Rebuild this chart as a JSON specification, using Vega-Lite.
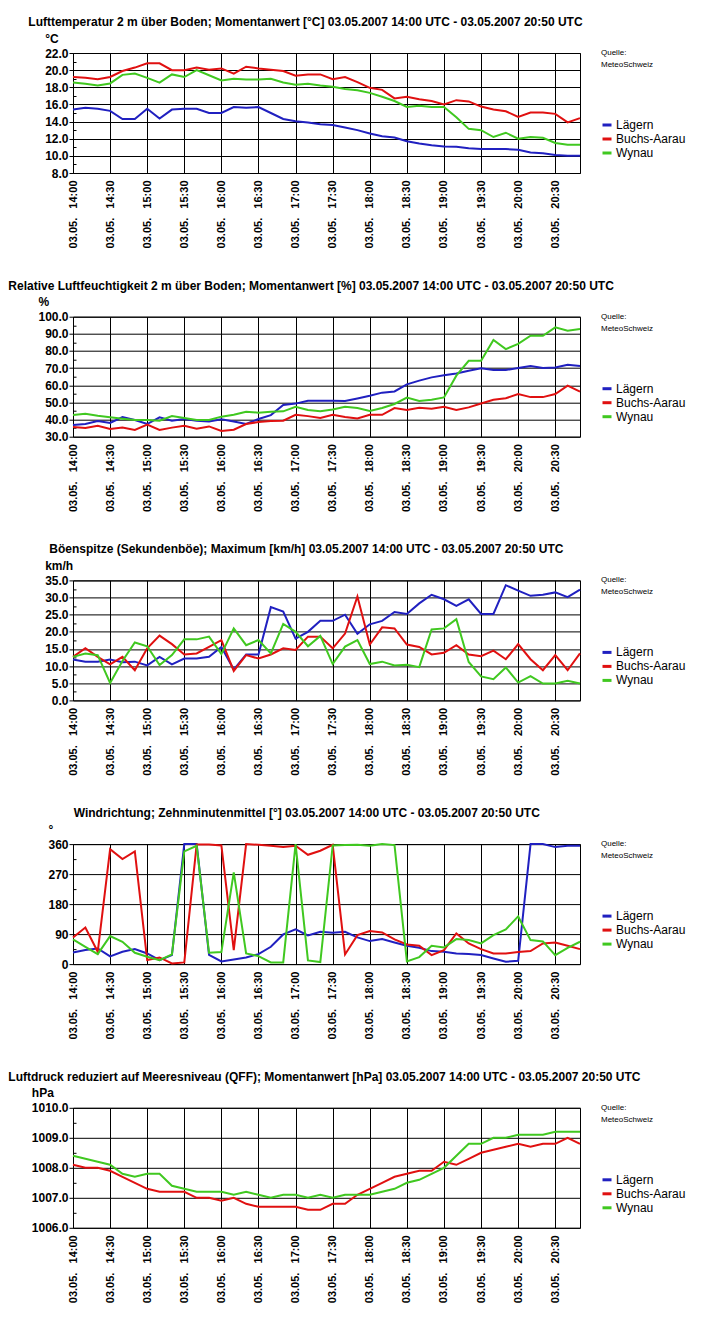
{
"$schema": "https://vega.github.io/schema/vega-lite/v6.json",
"background": "white",
"padding": {"left": 7, "top": 15, "right": 5, "bottom": 5},
"spacing": 29.7,
"config": {
 "font": "Liberation Sans",
 "view": {"stroke": "black", "strokeWidth": 1},
 "title": {"fontSize": 12, "fontWeight": "bold", "color": "black", "anchor": "start", "frame": "group", "offset": 3, "font": "Liberation Sans"},
 "axisX": {"grid": true, "gridColor": "black", "gridOpacity": 1, "gridWidth": 1, "ticks": false, "domain": false, "labelAngle": 270, "labelAlign": "right", "labelBaseline": "middle", "labelFontSize": 11, "labelFontWeight": "bold", "labelPadding": 7, "labelColor": "black", "labelOverlap": false, "title": null},
 "axisY": {"grid": true, "gridColor": "black", "gridWidth": 1, "domain": false, "tickColor": "black", "labelFontSize": 12, "labelFontWeight": "bold", "labelPadding": 1, "labelColor": "black", "labelOverlap": false, "labelBound": false, "titleAngle": 0, "titleAlign": "left", "titleBaseline": "middle", "titleY": -15, "titlePadding": 0, "titleFontSize": 12, "titleFontWeight": "bold", "titleColor": "black"},
 "legend": {"orient": "none", "legendX": 528, "legendY": -4, "titleFontSize": 8, "titleFontWeight": "normal", "titleLineHeight": 12, "titlePadding": 50, "titleColor": "black", "labelFontSize": 12, "labelColor": "black", "symbolType": "stroke", "symbolStrokeWidth": 3, "symbolSize": 81, "labelOffset": 3, "rowPadding": 2, "padding": 0}
},
"resolve": {"scale": {"x": "independent", "y": "independent", "color": "independent"}, "legend": {"color": "independent"}},
"datasets": {"m": [
{"t":"14:00","s":"Lägern","temp":15.4,"rh":36.8,"gust":11.9,"dir":35,"qff":null},
{"t":"14:10","s":"Lägern","temp":15.6,"rh":37.4,"gust":11.3,"dir":42,"qff":null},
{"t":"14:20","s":"Lägern","temp":15.5,"rh":39.1,"gust":11.3,"dir":47,"qff":null},
{"t":"14:30","s":"Lägern","temp":15.25,"rh":38.0,"gust":11.9,"dir":23,"qff":null},
{"t":"14:40","s":"Lägern","temp":14.3,"rh":41.5,"gust":11.1,"dir":37,"qff":null},
{"t":"14:50","s":"Lägern","temp":14.3,"rh":39.7,"gust":11.3,"dir":45,"qff":null},
{"t":"15:00","s":"Lägern","temp":15.5,"rh":37.4,"gust":10.2,"dir":32,"qff":null},
{"t":"15:10","s":"Lägern","temp":14.35,"rh":41.3,"gust":12.7,"dir":12,"qff":null},
{"t":"15:20","s":"Lägern","temp":15.4,"rh":39.3,"gust":10.5,"dir":27,"qff":null},
{"t":"15:30","s":"Lägern","temp":15.5,"rh":40.3,"gust":12.2,"dir":360,"qff":null},
{"t":"15:40","s":"Lägern","temp":15.5,"rh":39.3,"gust":12.2,"dir":360,"qff":null},
{"t":"15:50","s":"Lägern","temp":15.0,"rh":38.9,"gust":12.7,"dir":28,"qff":null},
{"t":"16:00","s":"Lägern","temp":15.0,"rh":40.1,"gust":15.6,"dir":8,"qff":null},
{"t":"16:10","s":"Lägern","temp":15.7,"rh":38.9,"gust":9.0,"dir":14,"qff":null},
{"t":"16:20","s":"Lägern","temp":15.6,"rh":37.4,"gust":13.4,"dir":20,"qff":null},
{"t":"16:30","s":"Lägern","temp":15.7,"rh":40.3,"gust":13.4,"dir":30,"qff":null},
{"t":"16:40","s":"Lägern","temp":15.0,"rh":42.6,"gust":27.2,"dir":52,"qff":null},
{"t":"16:50","s":"Lägern","temp":14.3,"rh":48.5,"gust":25.9,"dir":89,"qff":null},
{"t":"17:00","s":"Lägern","temp":14.05,"rh":49.3,"gust":18.0,"dir":104,"qff":null},
{"t":"17:10","s":"Lägern","temp":13.9,"rh":51.0,"gust":20.0,"dir":86,"qff":null},
{"t":"17:20","s":"Lägern","temp":13.7,"rh":51.0,"gust":23.2,"dir":97,"qff":null},
{"t":"17:30","s":"Lägern","temp":13.6,"rh":51.0,"gust":23.2,"dir":94,"qff":null},
{"t":"17:40","s":"Lägern","temp":13.3,"rh":50.8,"gust":25.0,"dir":97,"qff":null},
{"t":"17:50","s":"Lägern","temp":13.0,"rh":52.3,"gust":19.4,"dir":80,"qff":null},
{"t":"18:00","s":"Lägern","temp":12.6,"rh":53.9,"gust":22.2,"dir":69,"qff":null},
{"t":"18:10","s":"Lägern","temp":12.3,"rh":55.7,"gust":23.2,"dir":75,"qff":null},
{"t":"18:20","s":"Lägern","temp":12.15,"rh":56.4,"gust":25.8,"dir":65,"qff":null},
{"t":"18:30","s":"Lägern","temp":11.7,"rh":60.5,"gust":25.2,"dir":55,"qff":null},
{"t":"18:40","s":"Lägern","temp":11.45,"rh":62.7,"gust":28.3,"dir":49,"qff":null},
{"t":"18:50","s":"Lägern","temp":11.25,"rh":64.6,"gust":30.8,"dir":39,"qff":null},
{"t":"19:00","s":"Lägern","temp":11.1,"rh":65.8,"gust":29.5,"dir":37,"qff":null},
{"t":"19:10","s":"Lägern","temp":11.05,"rh":66.9,"gust":27.6,"dir":32,"qff":null},
{"t":"19:20","s":"Lägern","temp":10.9,"rh":68.5,"gust":29.5,"dir":30,"qff":null},
{"t":"19:30","s":"Lägern","temp":10.8,"rh":69.9,"gust":25.2,"dir":27,"qff":null},
{"t":"19:40","s":"Lägern","temp":10.8,"rh":68.9,"gust":25.2,"dir":17,"qff":null},
{"t":"19:50","s":"Lägern","temp":10.8,"rh":68.9,"gust":33.6,"dir":7,"qff":null},
{"t":"20:00","s":"Lägern","temp":10.7,"rh":70.1,"gust":32.0,"dir":10,"qff":null},
{"t":"20:10","s":"Lägern","temp":10.4,"rh":71.2,"gust":30.5,"dir":360,"qff":null},
{"t":"20:20","s":"Lägern","temp":10.3,"rh":70.1,"gust":30.8,"dir":360,"qff":null},
{"t":"20:30","s":"Lägern","temp":10.1,"rh":70.4,"gust":31.5,"dir":351,"qff":null},
{"t":"20:40","s":"Lägern","temp":10.0,"rh":72.0,"gust":30.1,"dir":355,"qff":null},
{"t":"20:50","s":"Lägern","temp":10.0,"rh":71.2,"gust":32.3,"dir":355,"qff":null},
{"t":"14:00","s":"Buchs-Aarau","temp":19.2,"rh":35.6,"gust":12.7,"dir":80,"qff":1008.1},
{"t":"14:10","s":"Buchs-Aarau","temp":19.1,"rh":35.1,"gust":15.2,"dir":110,"qff":1008.0},
{"t":"14:20","s":"Buchs-Aarau","temp":18.95,"rh":36.4,"gust":12.7,"dir":37,"qff":1008.0},
{"t":"14:30","s":"Buchs-Aarau","temp":19.2,"rh":34.5,"gust":10.5,"dir":345,"qff":1007.9},
{"t":"14:40","s":"Buchs-Aarau","temp":19.9,"rh":35.3,"gust":12.7,"dir":315,"qff":1007.7},
{"t":"14:50","s":"Buchs-Aarau","temp":20.3,"rh":33.9,"gust":8.8,"dir":338,"qff":1007.5},
{"t":"15:00","s":"Buchs-Aarau","temp":20.8,"rh":37.0,"gust":15.2,"dir":12,"qff":1007.3},
{"t":"15:10","s":"Buchs-Aarau","temp":20.8,"rh":33.9,"gust":18.9,"dir":20,"qff":1007.2},
{"t":"15:20","s":"Buchs-Aarau","temp":20.0,"rh":35.3,"gust":16.4,"dir":2,"qff":1007.2},
{"t":"15:30","s":"Buchs-Aarau","temp":20.0,"rh":36.4,"gust":13.4,"dir":5,"qff":1007.2},
{"t":"15:40","s":"Buchs-Aarau","temp":20.3,"rh":34.7,"gust":13.7,"dir":359,"qff":1007.0},
{"t":"15:50","s":"Buchs-Aarau","temp":20.05,"rh":36.0,"gust":15.6,"dir":359,"qff":1007.0},
{"t":"16:00","s":"Buchs-Aarau","temp":20.2,"rh":33.3,"gust":17.6,"dir":356,"qff":1006.9},
{"t":"16:10","s":"Buchs-Aarau","temp":19.6,"rh":34.1,"gust":8.6,"dir":42,"qff":1007.0},
{"t":"16:20","s":"Buchs-Aarau","temp":20.4,"rh":37.4,"gust":13.2,"dir":360,"qff":1006.8},
{"t":"16:30","s":"Buchs-Aarau","temp":20.2,"rh":38.6,"gust":12.2,"dir":358,"qff":1006.7},
{"t":"16:40","s":"Buchs-Aarau","temp":20.05,"rh":39.1,"gust":13.4,"dir":355,"qff":1006.7},
{"t":"16:50","s":"Buchs-Aarau","temp":19.9,"rh":39.3,"gust":15.2,"dir":351,"qff":1006.7},
{"t":"17:00","s":"Buchs-Aarau","temp":19.35,"rh":42.8,"gust":14.7,"dir":355,"qff":1006.7},
{"t":"17:10","s":"Buchs-Aarau","temp":19.5,"rh":42.0,"gust":18.6,"dir":328,"qff":1006.6},
{"t":"17:20","s":"Buchs-Aarau","temp":19.5,"rh":40.9,"gust":18.6,"dir":340,"qff":1006.6},
{"t":"17:30","s":"Buchs-Aarau","temp":18.95,"rh":42.8,"gust":15.2,"dir":358,"qff":1006.8},
{"t":"17:40","s":"Buchs-Aarau","temp":19.2,"rh":41.5,"gust":19.5,"dir":29,"qff":1006.8},
{"t":"17:50","s":"Buchs-Aarau","temp":18.6,"rh":40.6,"gust":30.3,"dir":87,"qff":1007.1},
{"t":"18:00","s":"Buchs-Aarau","temp":17.94,"rh":42.8,"gust":16.3,"dir":99,"qff":1007.3},
{"t":"18:10","s":"Buchs-Aarau","temp":17.7,"rh":42.8,"gust":21.3,"dir":95,"qff":1007.5},
{"t":"18:20","s":"Buchs-Aarau","temp":16.7,"rh":46.7,"gust":21.0,"dir":74,"qff":1007.7},
{"t":"18:30","s":"Buchs-Aarau","temp":16.9,"rh":45.6,"gust":16.3,"dir":59,"qff":1007.8},
{"t":"18:40","s":"Buchs-Aarau","temp":16.6,"rh":46.9,"gust":15.6,"dir":55,"qff":1007.9},
{"t":"18:50","s":"Buchs-Aarau","temp":16.4,"rh":46.3,"gust":13.4,"dir":27,"qff":1007.9},
{"t":"19:00","s":"Buchs-Aarau","temp":16.0,"rh":47.5,"gust":13.9,"dir":42,"qff":1008.2},
{"t":"19:10","s":"Buchs-Aarau","temp":16.5,"rh":45.6,"gust":16.1,"dir":92,"qff":1008.1},
{"t":"19:20","s":"Buchs-Aarau","temp":16.35,"rh":47.1,"gust":13.4,"dir":62,"qff":1008.3},
{"t":"19:30","s":"Buchs-Aarau","temp":15.75,"rh":49.4,"gust":12.9,"dir":45,"qff":1008.5},
{"t":"19:40","s":"Buchs-Aarau","temp":15.4,"rh":51.6,"gust":14.5,"dir":32,"qff":1008.6},
{"t":"19:50","s":"Buchs-Aarau","temp":15.2,"rh":52.4,"gust":12.0,"dir":32,"qff":1008.7},
{"t":"20:00","s":"Buchs-Aarau","temp":14.55,"rh":54.9,"gust":16.4,"dir":36,"qff":1008.8},
{"t":"20:10","s":"Buchs-Aarau","temp":15.05,"rh":53.1,"gust":12.0,"dir":39,"qff":1008.7},
{"t":"20:20","s":"Buchs-Aarau","temp":15.05,"rh":53.1,"gust":8.8,"dir":62,"qff":1008.8},
{"t":"20:30","s":"Buchs-Aarau","temp":14.9,"rh":54.9,"gust":13.2,"dir":65,"qff":1008.8},
{"t":"20:40","s":"Buchs-Aarau","temp":13.9,"rh":59.8,"gust":8.8,"dir":55,"qff":1009.0},
{"t":"20:50","s":"Buchs-Aarau","temp":14.4,"rh":56.3,"gust":13.7,"dir":45,"qff":1008.8},
{"t":"14:00","s":"Wynau","temp":18.55,"rh":42.6,"gust":12.7,"dir":74,"qff":1008.4},
{"t":"14:10","s":"Wynau","temp":18.4,"rh":43.4,"gust":13.7,"dir":52,"qff":1008.3},
{"t":"14:20","s":"Wynau","temp":18.2,"rh":42.2,"gust":13.2,"dir":30,"qff":1008.2},
{"t":"14:30","s":"Wynau","temp":18.45,"rh":41.3,"gust":5.1,"dir":84,"qff":1008.1},
{"t":"14:40","s":"Wynau","temp":19.45,"rh":40.5,"gust":11.5,"dir":67,"qff":1007.8},
{"t":"14:50","s":"Wynau","temp":19.6,"rh":39.7,"gust":16.9,"dir":34,"qff":1007.7},
{"t":"15:00","s":"Wynau","temp":19.1,"rh":39.7,"gust":15.8,"dir":22,"qff":1007.8},
{"t":"15:10","s":"Wynau","temp":18.55,"rh":39.3,"gust":10.3,"dir":12,"qff":1007.8},
{"t":"15:20","s":"Wynau","temp":19.5,"rh":42.1,"gust":13.2,"dir":29,"qff":1007.4},
{"t":"15:30","s":"Wynau","temp":19.2,"rh":40.9,"gust":17.8,"dir":338,"qff":1007.3},
{"t":"15:40","s":"Wynau","temp":20.0,"rh":39.7,"gust":17.8,"dir":355,"qff":1007.2},
{"t":"15:50","s":"Wynau","temp":19.4,"rh":39.7,"gust":18.6,"dir":34,"qff":1007.2},
{"t":"16:00","s":"Wynau","temp":18.8,"rh":41.7,"gust":13.5,"dir":36,"qff":1007.2},
{"t":"16:10","s":"Wynau","temp":19.0,"rh":42.8,"gust":21.0,"dir":275,"qff":1007.1},
{"t":"16:20","s":"Wynau","temp":18.9,"rh":44.6,"gust":16.1,"dir":32,"qff":1007.2},
{"t":"16:30","s":"Wynau","temp":18.9,"rh":44.0,"gust":17.6,"dir":24,"qff":1007.1},
{"t":"16:40","s":"Wynau","temp":19.0,"rh":44.6,"gust":13.7,"dir":5,"qff":1007.0},
{"t":"16:50","s":"Wynau","temp":18.55,"rh":44.8,"gust":22.3,"dir":5,"qff":1007.1},
{"t":"17:00","s":"Wynau","temp":18.3,"rh":47.5,"gust":20.0,"dir":360,"qff":1007.1},
{"t":"17:10","s":"Wynau","temp":18.4,"rh":45.6,"gust":15.8,"dir":11,"qff":1007.0},
{"t":"17:20","s":"Wynau","temp":18.2,"rh":44.8,"gust":18.8,"dir":6,"qff":1007.1},
{"t":"17:30","s":"Wynau","temp":18.05,"rh":45.9,"gust":10.6,"dir":356,"qff":1007.0},
{"t":"17:40","s":"Wynau","temp":17.8,"rh":47.4,"gust":15.7,"dir":357,"qff":1007.1},
{"t":"17:50","s":"Wynau","temp":17.65,"rh":46.7,"gust":17.6,"dir":358,"qff":1007.1},
{"t":"18:00","s":"Wynau","temp":17.35,"rh":45.0,"gust":10.6,"dir":355,"qff":1007.1},
{"t":"18:10","s":"Wynau","temp":16.9,"rh":46.7,"gust":11.3,"dir":360,"qff":1007.2},
{"t":"18:20","s":"Wynau","temp":16.4,"rh":49.1,"gust":10.2,"dir":357,"qff":1007.3},
{"t":"18:30","s":"Wynau","temp":15.7,"rh":52.8,"gust":10.4,"dir":8,"qff":1007.5},
{"t":"18:40","s":"Wynau","temp":15.85,"rh":50.8,"gust":9.7,"dir":21,"qff":1007.6},
{"t":"18:50","s":"Wynau","temp":15.7,"rh":51.6,"gust":20.7,"dir":55,"qff":1007.8},
{"t":"19:00","s":"Wynau","temp":15.7,"rh":52.9,"gust":21.0,"dir":50,"qff":1008.0},
{"t":"19:10","s":"Wynau","temp":14.5,"rh":65.6,"gust":23.7,"dir":75,"qff":1008.4},
{"t":"19:20","s":"Wynau","temp":13.15,"rh":74.3,"gust":11.2,"dir":72,"qff":1008.8},
{"t":"19:30","s":"Wynau","temp":13.0,"rh":74.3,"gust":7.0,"dir":62,"qff":1008.8},
{"t":"19:40","s":"Wynau","temp":12.2,"rh":86.4,"gust":6.2,"dir":87,"qff":1009.0},
{"t":"19:50","s":"Wynau","temp":12.7,"rh":81.1,"gust":9.6,"dir":104,"qff":1009.0},
{"t":"20:00","s":"Wynau","temp":12.0,"rh":84.1,"gust":5.2,"dir":143,"qff":1009.1},
{"t":"20:10","s":"Wynau","temp":12.2,"rh":88.9,"gust":7.1,"dir":72,"qff":1009.1},
{"t":"20:20","s":"Wynau","temp":12.1,"rh":88.9,"gust":4.9,"dir":68,"qff":1009.1},
{"t":"20:30","s":"Wynau","temp":11.5,"rh":93.8,"gust":4.9,"dir":27,"qff":1009.2},
{"t":"20:40","s":"Wynau","temp":11.3,"rh":91.8,"gust":5.7,"dir":49,"qff":1009.2},
{"t":"20:50","s":"Wynau","temp":11.3,"rh":92.8,"gust":4.9,"dir":67,"qff":1009.2}
]},
"vconcat": [
{
 "width": 507, "height": 120,
 "title": {"text": "Lufttemperatur 2 m über Boden; Momentanwert [°C] 03.05.2007 14:00 UTC - 03.05.2007 20:50 UTC", "dx": -44.7},
 "data": {"name": "m"},
 "mark": {"type": "line", "strokeWidth": 2},
 "encoding": {
  "x": {"field": "t", "type": "ordinal", "scale": {"type": "point", "padding": 0}, "axis": {"values": ["14:00","14:30","15:00","15:30","16:00","16:30","17:00","17:30","18:00","18:30","19:00","19:30","20:00","20:30"], "labelExpr": "'03.05.\u00a0\u00a0\u00a0' + datum.value"}},
  "y": {"field": "temp", "type": "quantitative", "scale": {"domain": [8, 22], "nice": false, "zero": false}, "axis": {"title": "°C", "values": [8,9,10,11,12,13,14,15,16,17,18,19,20,21,22], "labelExpr": "datum.value % 2 === 0 ? format(datum.value, '.1f') : ''", "gridOpacity": {"condition": {"test": "datum.value % 2 === 0", "value": 1}, "value": 0}, "tickSize": {"condition": {"test": "datum.value % 2 === 0", "value": 4}, "value": -3}}},
  "color": {"field": "s", "type": "nominal", "scale": {"domain": ["Lägern","Buchs-Aarau","Wynau"], "range": ["#2020c0","#e01010","#40c820"]}, "legend": {"title": ["Quelle:", "MeteoSchweiz"]}}
 }
},
{
 "width": 507, "height": 120,
 "title": {"text": "Relative Luftfeuchtigkeit 2 m über Boden; Momentanwert [%] 03.05.2007 14:00 UTC - 03.05.2007 20:50 UTC", "dx": -64.7},
 "data": {"name": "m"},
 "mark": {"type": "line", "strokeWidth": 2},
 "encoding": {
  "x": {"field": "t", "type": "ordinal", "scale": {"type": "point", "padding": 0}, "axis": {"values": ["14:00","14:30","15:00","15:30","16:00","16:30","17:00","17:30","18:00","18:30","19:00","19:30","20:00","20:30"], "labelExpr": "'03.05.\u00a0\u00a0\u00a0' + datum.value"}},
  "y": {"field": "rh", "type": "quantitative", "scale": {"domain": [30, 100], "nice": false, "zero": false}, "axis": {"title": "%", "values": [30,35,40,45,50,55,60,65,70,75,80,85,90,95,100], "labelExpr": "datum.value % 10 === 0 ? format(datum.value, '.1f') : ''", "gridOpacity": {"condition": {"test": "datum.value % 10 === 0", "value": 1}, "value": 0}, "tickSize": {"condition": {"test": "datum.value % 10 === 0", "value": 4}, "value": -3}}},
  "color": {"field": "s", "type": "nominal", "scale": {"domain": ["Lägern","Buchs-Aarau","Wynau"], "range": ["#2020c0","#e01010","#40c820"]}, "legend": {"title": ["Quelle:", "MeteoSchweiz"]}}
 }
},
{
 "width": 507, "height": 120,
 "title": {"text": "Böenspitze (Sekundenböe); Maximum [km/h] 03.05.2007 14:00 UTC - 03.05.2007 20:50 UTC", "dx": -23.7},
 "data": {"name": "m"},
 "mark": {"type": "line", "strokeWidth": 2},
 "encoding": {
  "x": {"field": "t", "type": "ordinal", "scale": {"type": "point", "padding": 0}, "axis": {"values": ["14:00","14:30","15:00","15:30","16:00","16:30","17:00","17:30","18:00","18:30","19:00","19:30","20:00","20:30"], "labelExpr": "'03.05.\u00a0\u00a0\u00a0' + datum.value"}},
  "y": {"field": "gust", "type": "quantitative", "scale": {"domain": [0, 35], "nice": false}, "axis": {"title": "km/h", "values": [0,2.5,5,7.5,10,12.5,15,17.5,20,22.5,25,27.5,30,32.5,35], "labelExpr": "datum.value % 5 === 0 ? format(datum.value, '.1f') : ''", "gridOpacity": {"condition": {"test": "datum.value % 5 === 0", "value": 1}, "value": 0}, "tickSize": {"condition": {"test": "datum.value % 5 === 0", "value": 4}, "value": -3}}},
  "color": {"field": "s", "type": "nominal", "scale": {"domain": ["Lägern","Buchs-Aarau","Wynau"], "range": ["#2020c0","#e01010","#40c820"]}, "legend": {"title": ["Quelle:", "MeteoSchweiz"]}}
 }
},
{
 "width": 507, "height": 120,
 "title": {"text": "Windrichtung; Zehnminutenmittel [°] 03.05.2007 14:00 UTC - 03.05.2007 20:50 UTC", "dx": 0.7},
 "data": {"name": "m"},
 "mark": {"type": "line", "strokeWidth": 2},
 "encoding": {
  "x": {"field": "t", "type": "ordinal", "scale": {"type": "point", "padding": 0}, "axis": {"values": ["14:00","14:30","15:00","15:30","16:00","16:30","17:00","17:30","18:00","18:30","19:00","19:30","20:00","20:30"], "labelExpr": "'03.05.\u00a0\u00a0\u00a0' + datum.value"}},
  "y": {"field": "dir", "type": "quantitative", "scale": {"domain": [0, 360], "nice": false}, "axis": {"title": "°", "values": [0,45,90,135,180,225,270,315,360], "labelExpr": "datum.value % 90 === 0 ? format(datum.value, 'd') : ''", "gridOpacity": {"condition": {"test": "datum.value % 90 === 0", "value": 1}, "value": 0}, "tickSize": {"condition": {"test": "datum.value % 90 === 0", "value": 4}, "value": -3}}},
  "color": {"field": "s", "type": "nominal", "scale": {"domain": ["Lägern","Buchs-Aarau","Wynau"], "range": ["#2020c0","#e01010","#40c820"]}, "legend": {"title": ["Quelle:", "MeteoSchweiz"]}}
 }
},
{
 "width": 507, "height": 120,
 "title": {"text": "Luftdruck reduziert auf Meeresniveau (QFF); Momentanwert [hPa] 03.05.2007 14:00 UTC - 03.05.2007 20:50 UTC", "dx": -64.7},
 "data": {"name": "m"},
 "mark": {"type": "line", "strokeWidth": 2},
 "encoding": {
  "x": {"field": "t", "type": "ordinal", "scale": {"type": "point", "padding": 0}, "axis": {"values": ["14:00","14:30","15:00","15:30","16:00","16:30","17:00","17:30","18:00","18:30","19:00","19:30","20:00","20:30"], "labelExpr": "'03.05.\u00a0\u00a0\u00a0' + datum.value"}},
  "y": {"field": "qff", "type": "quantitative", "scale": {"domain": [1006, 1010], "nice": false, "zero": false}, "axis": {"title": "hPa", "values": [1006,1006.5,1007,1007.5,1008,1008.5,1009,1009.5,1010], "labelExpr": "datum.value % 1 === 0 ? format(datum.value, '.1f') : ''", "gridOpacity": {"condition": {"test": "datum.value % 1 === 0", "value": 1}, "value": 0}, "tickSize": {"condition": {"test": "datum.value % 1 === 0", "value": 4}, "value": -3}}},
  "color": {"field": "s", "type": "nominal", "scale": {"domain": ["Lägern","Buchs-Aarau","Wynau"], "range": ["#2020c0","#e01010","#40c820"]}, "legend": {"title": ["Quelle:", "MeteoSchweiz"]}}
 }
}
]
}
